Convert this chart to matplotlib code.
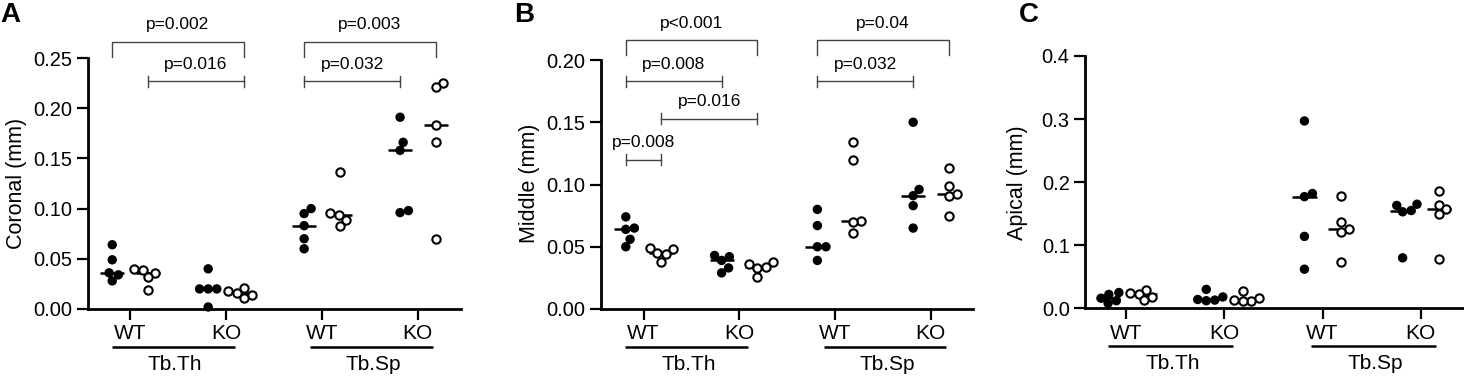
import numpy as np
import matplotlib
matplotlib.use("Agg")
import matplotlib.pyplot as plt

plt.rcParams['font.family'] = ['Liberation Sans', 'DejaVu Sans']

# categories
tick_labels = ["WT", "KO", "WT", "KO"]
params = ["Tb.Th", "Tb.Sp"]
panel_letters = ["A", "B", "C"]
ylabels = ["Coronal (mm)", "Middle (mm)", "Apical (mm)"]

# values per set, order: WT filled, WT open, KO filled, KO open (Tb.Th, then Tb.Sp)
coronal = [
    [0.064, 0.049, 0.036, 0.034, 0.028],
    [0.040, 0.039, 0.036, 0.032, 0.019],
    [0.040, 0.020, 0.020, 0.020, 0.002],
    [0.021, 0.018, 0.016, 0.014, 0.011],
    [0.100, 0.095, 0.083, 0.070, 0.060],
    [0.136, 0.096, 0.094, 0.089, 0.083],
    [0.191, 0.166, 0.158, 0.098, 0.096],
    [0.225, 0.221, 0.183, 0.166, 0.070],
]
middle = [
    [0.074, 0.065, 0.064, 0.056, 0.050],
    [0.049, 0.048, 0.045, 0.044, 0.038],
    [0.043, 0.042, 0.039, 0.033, 0.029],
    [0.038, 0.036, 0.034, 0.033, 0.026],
    [0.080, 0.067, 0.050, 0.050, 0.039],
    [0.134, 0.120, 0.071, 0.070, 0.061],
    [0.150, 0.096, 0.091, 0.083, 0.065],
    [0.113, 0.099, 0.092, 0.091, 0.075],
]
apical = [
    [0.025, 0.022, 0.016, 0.012, 0.008],
    [0.029, 0.025, 0.023, 0.018, 0.013],
    [0.030, 0.018, 0.014, 0.013, 0.012],
    [0.028, 0.016, 0.013, 0.012, 0.011],
    [0.297, 0.182, 0.177, 0.114, 0.062],
    [0.178, 0.137, 0.125, 0.121, 0.073],
    [0.165, 0.163, 0.155, 0.153, 0.080],
    [0.186, 0.164, 0.157, 0.150, 0.078],
]
panel_data = [coronal, middle, apical]

# p-value comparisons: (set i, set j, y, label, style)
comp_coronal = [
    (0, 3, 0.266, "p=0.002", "bracket"),
    (1, 3, 0.227, "p=0.016", "cap"),
    (4, 7, 0.266, "p=0.003", "bracket"),
    (4, 6, 0.227, "p=0.032", "cap"),
]
comp_middle = [
    (0, 3, 0.216, "p<0.001", "bracket"),
    (0, 2, 0.183, "p=0.008", "cap"),
    (1, 3, 0.153, "p=0.016", "cap"),
    (0, 1, 0.120, "p=0.008", "cap"),
    (4, 7, 0.216, "p=0.04", "bracket"),
    (4, 6, 0.183, "p=0.032", "cap"),
]
panel_comps = [comp_coronal, comp_middle, []]

yticks = [np.arange(0, 0.251, 0.05), np.arange(0, 0.201, 0.05), np.arange(0, 0.41, 0.1)]
yfmt = ["{:.2f}", "{:.2f}", "{:.1f}"]

W, H = 1464, 377
# axes boxes in pixels: left, right, top, bottom
boxes = [(88, 461, 58, 309), (601, 973, 60, 309), (1085, 1463, 56, 308.3)]
xlims = [(-0.4375, 3.45), (-0.444, 3.44), (-0.42, 3.43)]
ylabel_x = [17, 530, 1018]
letter_x = [0, 514, 1019]

off = 0.185          # half distance between filled and open sets
D = 8.6              # swarm spacing in pixels


def swarm(ax, xc, vals, d):
    pts = ax.transData.transform(np.column_stack([np.full(len(vals), xc), vals]))
    order = np.argsort(pts[:, 1])
    placed = []
    dx_all = np.zeros(len(vals))
    for i in order:
        y = pts[i, 1]
        cands = [0.0]
        for px, py in placed:
            dy = y - py
            if abs(dy) < d:
                dx = np.sqrt(d * d - dy * dy)
                cands += [px + dx, px - dx]
        cands.sort(key=lambda c: (round(abs(c), 6), -c))
        for c in cands:
            if all((c - px) ** 2 + (y - py) ** 2 >= d * d - 1e-6 for px, py in placed):
                break
        placed.append((c, y))
        dx_all[i] = c
    disp = np.column_stack([pts[:, 0] + dx_all, pts[:, 1]])
    return ax.transData.inverted().transform(disp)[:, 0]


fig = plt.figure(figsize=(W / 100, H / 100), dpi=100)

for k in range(3):
    l, r, t, b = boxes[k]
    ax = fig.add_axes([l / W, 1 - b / H, (r - l) / W, (b - t) / H])
    ax.set_xlim(*xlims[k])
    ax.set_ylim(0, yticks[k][-1])
    for s in ["top", "right"]:
        ax.spines[s].set_visible(False)
    for s in ["left", "bottom"]:
        ax.spines[s].set_linewidth(2.0)
    ax.tick_params(axis="both", width=1.6, length=8, pad=3, color="black")
    ax.set_yticks(yticks[k])
    ax.set_yticklabels([yfmt[k].format(v) for v in yticks[k]], fontsize=14.5)
    ticks = np.arange(4)
    ax.set_xticks(ticks)
    ax.set_xticklabels(tick_labels, fontsize=15)

    ypx = (b - t) / yticks[k][-1]   # pixels per data unit
    centers = []
    for g, vals in enumerate(panel_data[k]):
        xc = ticks[g // 2] + (-off if g % 2 == 0 else off)
        centers.append(xc)
        med = np.median(vals)
        ax.plot([xc - 0.125, xc + 0.125], [med, med], color="black", lw=1.8,
                zorder=2, solid_capstyle="butt")
        xs = swarm(ax, xc, vals, D)
        if g % 2 == 0:
            ax.scatter(xs, vals, s=46, color="black", edgecolors="none", zorder=3,
                       clip_on=False)
        else:
            ax.scatter(xs, vals, s=36, facecolors="white", edgecolors="black",
                       linewidths=1.5, zorder=4, clip_on=False)

    # p-value annotations
    for i, j, yv, lab, style in panel_comps[k]:
        x1, x2 = centers[i], centers[j]
        c = "#444444"
        if style == "bracket":
            leg = 15 / ypx
            ax.plot([x1, x1, x2, x2], [yv - leg, yv, yv, yv - leg], color=c, lw=1.0,
                    clip_on=False)
        else:
            cap = 5.5 / ypx
            ax.plot([x1, x2], [yv, yv], color=c, lw=1.0, clip_on=False)
            ax.plot([x1, x1], [yv - cap, yv + cap], color=c, lw=1.0, clip_on=False)
            ax.plot([x2, x2], [yv - cap, yv + cap], color=c, lw=1.0, clip_on=False)
        ax.annotate(lab, xy=((x1 + x2) / 2, yv), xytext=(0, 9), textcoords="offset points",
                    ha="center", va="baseline", fontsize=12.5, annotation_clip=False)

    # group underlines
    trans = ax.get_xaxis_transform()
    h = b - t
    for p, (x0, x1) in zip(params, [(-0.19, 1.09), (1.88, 3.16)]):
        ax.plot([x0, x1], [-38 / h, -38 / h], color="black", lw=1.8, transform=trans,
                clip_on=False, solid_capstyle="butt")
        ax.text((x0 + x1) / 2 + 0.02, -55 / h, p, transform=trans, ha="center", va="center",
                fontsize=15)

    fig.text(ylabel_x[k] / W, 1 - 183 / H, ylabels[k], rotation=90, ha="center",
             va="center", fontsize=15.5)
    fig.text(letter_x[k] / W, 1 - 2 / H, panel_letters[k], ha="left", va="top",
             fontsize=20, fontweight="bold")

fig.savefig("out.png", dpi=100)
